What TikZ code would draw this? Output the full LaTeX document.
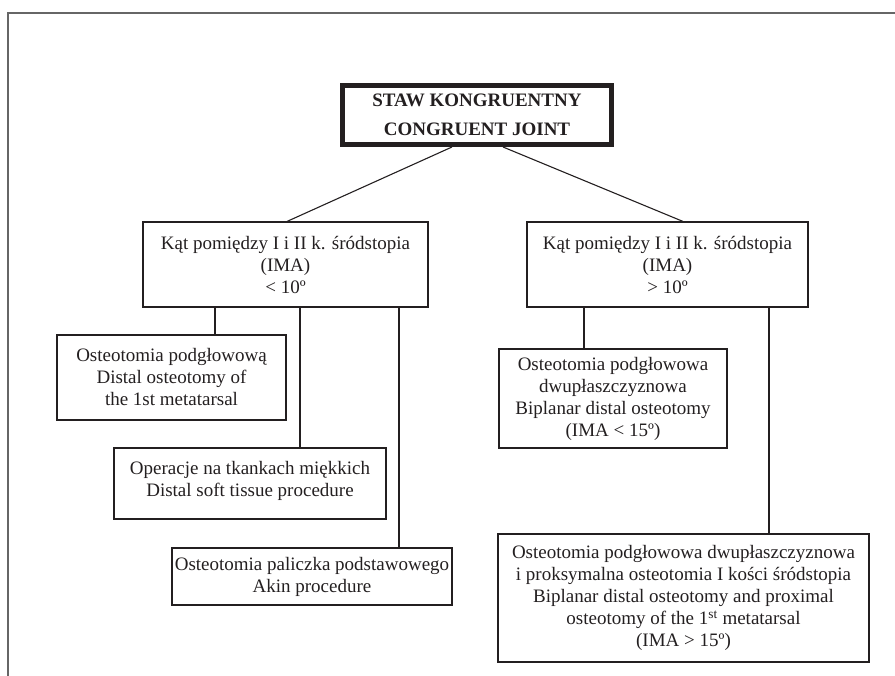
\documentclass[tikz,border=0pt]{standalone}
\usepackage{fontspec}
\setmainfont{Liberation Serif}
\definecolor{textc}{HTML}{231F20}
\definecolor{framec}{HTML}{666666}
\begin{document}
\begin{tikzpicture}[x=1pt,y=-1pt,
  box/.style={draw=textc, line width=1.1pt, inner sep=0pt, align=center,
    font=\fontsize{19}{22}\selectfont, text=textc},
  topbox/.style={draw=textc, line width=5pt, inner sep=0pt, align=center,
    font=\fontsize{19}{29}\selectfont\bfseries, text=textc},
  conn/.style={draw=textc, line width=1.1pt},
  framel/.style={draw=framec, line width=1.5pt}]
\useasboundingbox (0,0) rectangle (895,676);
\draw[framel] (895,13) -- (8,13) -- (8,676);

\node[topbox, minimum width=269, minimum height=59] (top) at (477,115)
  {STAW KONGRUENTNY\\CONGRUENT JOINT};

\node[box, minimum width=285, minimum height=85] (kl) at (285.5,264.5)
  {Kąt pomiędzy I i II k. śródstopia\\(IMA)\\< 10º};
\node[box, minimum width=281, minimum height=85] (kr) at (667.5,264.5)
  {Kąt pomiędzy I i II k. śródstopia\\(IMA)\\> 10º};

\node[box, minimum width=229, minimum height=85] (la) at (171.5,377.5)
  {Osteotomia podgłowową\\Distal osteotomy of\\the 1st metatarsal};
\node[box, minimum width=272, minimum height=71] (lb) at (250,483.5)
  {Operacje na tkankach miękkich\\Distal soft tissue procedure\\[-12pt]\mbox{}};
\node[box, minimum width=280, minimum height=57] (lc) at (312,576.5)
  {Osteotomia paliczka podstawowego\\Akin procedure};

\node[box, minimum width=228, minimum height=99] (ra) at (613,398.5)
  {Osteotomia podgłowowa\\dwupłaszczyznowa\\Biplanar distal osteotomy\\(IMA < 15º)};
\node[box, minimum width=371, minimum height=128] (rb) at (683.5,598)
  {Osteotomia podgłowowa dwupłaszczyznowa\\i proksymalna osteotomia I kości śródstopia\\Biplanar distal osteotomy and proximal\\osteotomy of the 1\textsuperscript{st} metatarsal\\(IMA > 15º)};

\draw[conn] (top.south -| 452,0) -- (kl.north -| 287,0);
\draw[conn] (top.south -| 503,0) -- (kr.north -| 683,0);

\draw[conn] (kl.south -| 215,0) -- (la.north -| 215,0);
\draw[conn] (kl.south -| 300,0) -- (lb.north -| 300,0);
\draw[conn] (kl.south -| 399,0) -- (lc.north -| 399,0);

\draw[conn] (kr.south -| 584,0) -- (ra.north -| 584,0);
\draw[conn] (kr.south -| 769,0) -- (rb.north -| 769,0);
\end{tikzpicture}
\end{document}
